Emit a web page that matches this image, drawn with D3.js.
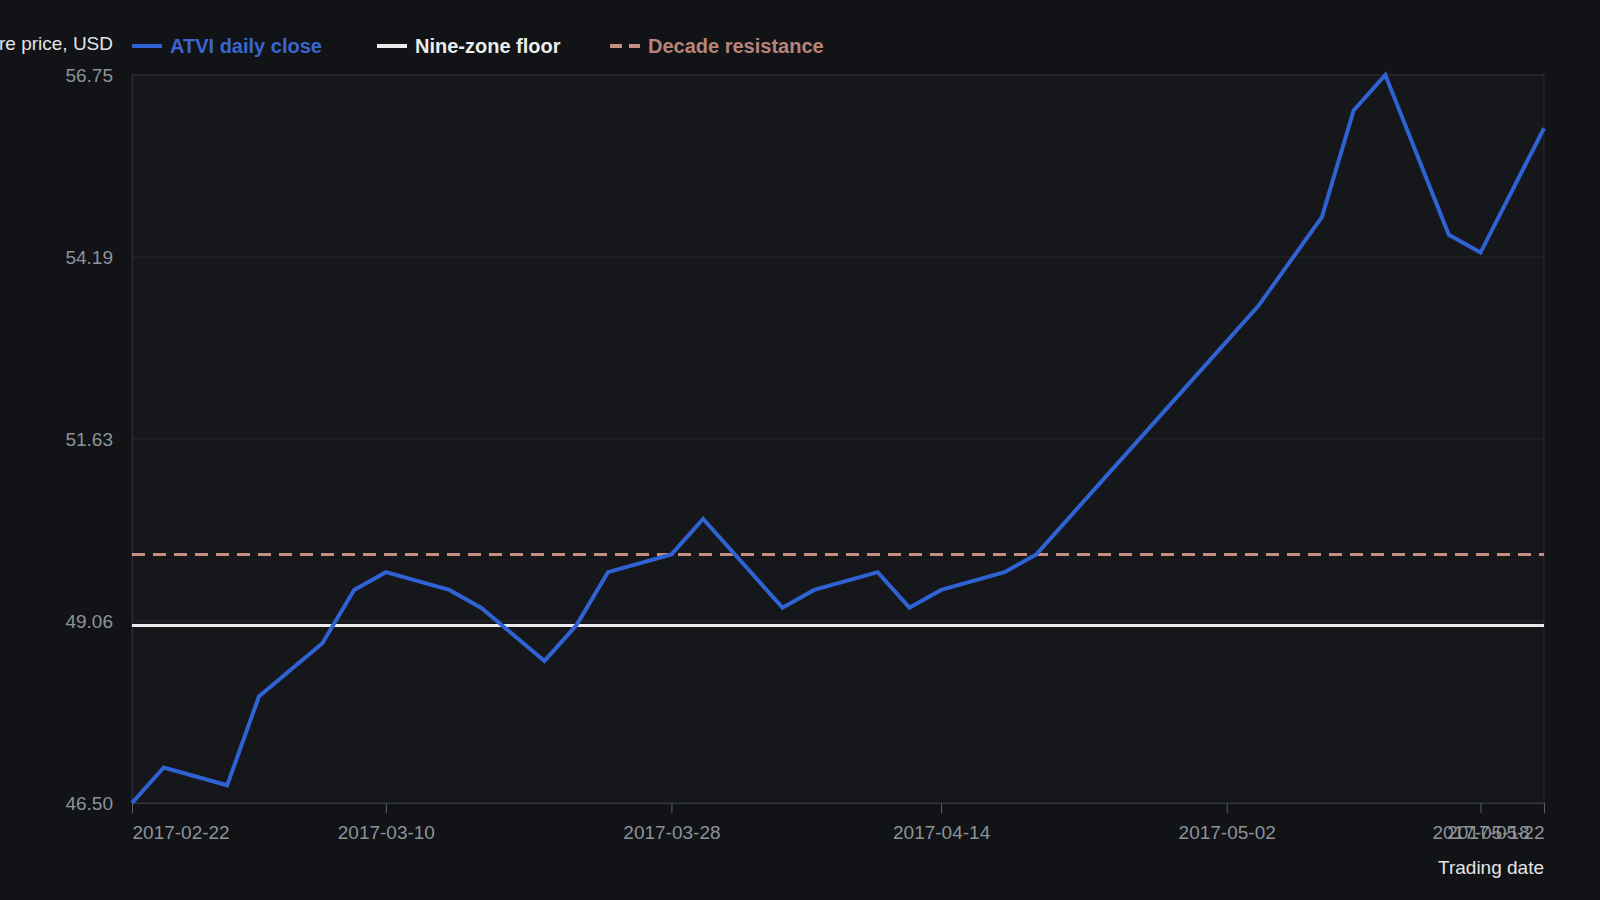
<!DOCTYPE html>
<html>
<head>
<meta charset="utf-8">
<script src="https://cdn.jsdelivr.net/npm/d3@7"></script>
<style>
    html, body { margin: 0; padding: 0; background: #111316; }
    svg { display: block; font-family: 'Liberation Sans', Arial, sans-serif; }
</style>
</head>
<body>
<div id="chart"></div>
<script>
const dates = [
    '2017-02-22', '2017-02-24', '2017-02-28', '2017-03-02', '2017-03-06', '2017-03-08',
    '2017-03-10', '2017-03-14', '2017-03-16', '2017-03-20', '2017-03-22', '2017-03-24',
    '2017-03-28', '2017-03-30', '2017-04-04', '2017-04-06', '2017-04-10', '2017-04-12',
    '2017-04-14', '2017-04-18', '2017-04-20', '2017-04-24', '2017-04-26', '2017-04-28',
    '2017-05-02', '2017-05-04', '2017-05-08', '2017-05-10', '2017-05-12', '2017-05-16',
    '2017-05-18', '2017-05-22',
];
const closes = [
    46.5, 47.0, 46.75, 48.0, 48.75, 49.5,
    49.75, 49.5, 49.25, 48.5, 49.0, 49.75,
    50.0, 50.5, 49.25, 49.5, 49.75, 49.25,
    49.5, 49.75, 50.0, 51.0, 51.5, 52.0,
    53.0, 53.5, 54.75, 56.25, 56.75, 54.5,
    54.25, 56.0,
];
const floorLevel = 49.0;
const resistanceLevel = 50.0;
const xTickDates = ['2017-02-22', '2017-03-10', '2017-03-28', '2017-04-14', '2017-05-02', '2017-05-18', '2017-05-22'];
const yTicks = [46.5, 49.0625, 51.625, 54.1875, 56.75];

const width = 1600;
const height = 900;
const margin = { top: 75, right: 56, bottom: 97, left: 132 };
const colors = { close: '#2f62d3', floor: '#ececec', resist: '#c48e80' };

const parse = d3.timeParse('%Y-%m-%d');
const fmt = d3.timeFormat('%Y-%m-%d');
const data = dates.map((d, i) => ({ date: parse(d), value: closes[i] }));

const svg = d3
    .select('#chart')
    .append('svg')
    .attr('width', width)
    .attr('height', height);

svg.append('rect').attr('width', width).attr('height', height).attr('fill', '#111316');

const x = d3
    .scaleTime()
    .domain(d3.extent(data, d => d.date))
    .range([margin.left, width - margin.right]);
const y = d3
    .scaleLinear()
    .domain([46.5, 56.75])
    .range([height - margin.bottom, margin.top]);

// plot area
svg.append('rect')
    .attr('x', margin.left)
    .attr('y', margin.top)
    .attr('width', width - margin.left - margin.right)
    .attr('height', height - margin.top - margin.bottom)
    .attr('fill', '#15171b')
    .attr('stroke', '#2a2d33')
    .attr('stroke-width', 1);

// grid
svg.append('g')
    .selectAll('line')
    .data(yTicks)
    .join('line')
    .attr('x1', margin.left)
    .attr('x2', width - margin.right)
    .attr('y1', d => y(d))
    .attr('y2', d => y(d))
    .attr('stroke', '#25282e')
    .attr('stroke-width', 1);

// y axis
const yAxis = svg
    .append('g')
    .attr('transform', `translate(${margin.left},0)`)
    .call(d3.axisLeft(y).tickValues(yTicks).tickFormat(d3.format('.2f')).tickSize(0).tickPadding(19));
yAxis.select('.domain').attr('stroke', '#2a2d33');
yAxis.selectAll('text').attr('fill', '#8e9299').style('font-size', '19px');

// x axis
const tickDates = xTickDates.map(parse);
const xAxis = svg
    .append('g')
    .attr('transform', `translate(0,${height - margin.bottom})`)
    .call(d3.axisBottom(x).tickValues(tickDates).tickFormat(fmt).tickSize(10).tickPadding(13));
xAxis.select('.domain').attr('stroke', '#33363c');
xAxis.selectAll('.tick line').attr('stroke', '#5a5e66');
xAxis.selectAll('text')
    .attr('fill', '#8e9299')
    .style('font-size', '19px')
    .attr('text-anchor', (d, i) => (i === 0 ? 'start' : i === tickDates.length - 1 ? 'end' : 'middle'));

// reference lines
svg.append('line')
    .attr('x1', margin.left)
    .attr('x2', width - margin.right)
    .attr('y1', y(resistanceLevel))
    .attr('y2', y(resistanceLevel))
    .attr('stroke', colors.resist)
    .attr('stroke-width', 3)
    .attr('stroke-dasharray', '13,8');

svg.append('line')
    .attr('x1', margin.left)
    .attr('x2', width - margin.right)
    .attr('y1', y(floorLevel))
    .attr('y2', y(floorLevel))
    .attr('stroke', colors.floor)
    .attr('stroke-width', 3);

// price line
const line = d3
    .line()
    .x(d => x(d.date))
    .y(d => y(d.value));

svg.append('path')
    .datum(data)
    .attr('fill', 'none')
    .attr('stroke', colors.close)
    .attr('stroke-width', 4)
    .attr('stroke-linejoin', 'miter')
    .attr('d', line);

// axis titles
svg.append('text')
    .attr('x', 113)
    .attr('y', 43)
    .attr('dy', '0.35em')
    .attr('text-anchor', 'end')
    .attr('fill', '#e4e4e4')
    .style('font-size', '19px')
    .text('Share price, USD');

svg.append('text')
    .attr('x', width - margin.right)
    .attr('y', 867)
    .attr('dy', '0.35em')
    .attr('text-anchor', 'end')
    .attr('fill', '#e4e4e4')
    .style('font-size', '19px')
    .text('Trading date');

// legend
const legendItems = [
    { label: 'ATVI daily close', color: colors.close, text: '#3a66d0', x: 132, dash: null },
    { label: 'Nine-zone floor', color: colors.floor, text: '#ececec', x: 377, dash: null },
    { label: 'Decade resistance', color: colors.resist, text: '#b8847a', x: 610, dash: '12,7' },
];
const legend = svg
    .append('g')
    .selectAll('g')
    .data(legendItems)
    .join('g')
    .attr('transform', d => `translate(${d.x},46)`);

legend.append('line')
    .attr('x1', 0)
    .attr('x2', 30)
    .attr('stroke', d => d.color)
    .attr('stroke-width', 4)
    .attr('stroke-dasharray', d => d.dash);

legend.append('text')
    .attr('x', 38)
    .attr('dy', '0.35em')
    .attr('fill', d => d.text)
    .style('font-size', '20px')
    .style('font-weight', 'bold')
    .text(d => d.label);
</script>
</body>
</html>
